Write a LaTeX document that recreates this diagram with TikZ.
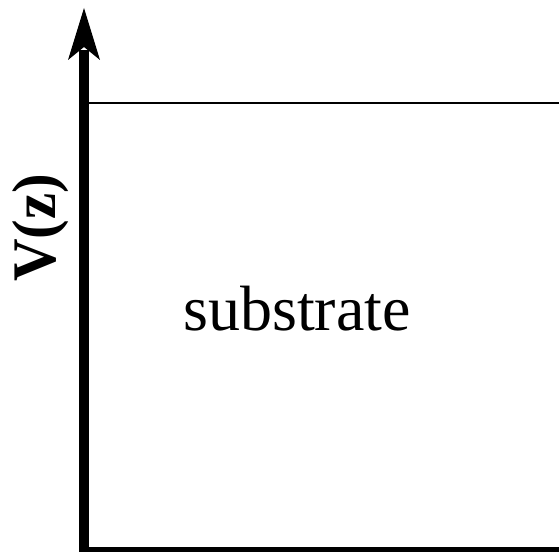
\documentclass[tikz,border=0pt]{standalone}
\usepackage{fontspec}
\setmainfont{Liberation Serif}
\begin{document}
\begin{tikzpicture}[x=1pt,y=1pt,
  axis/.style={fill=black},
  level/.style={draw=black,line width=2pt},
  lbl/.style={inner sep=0pt,anchor=base}]
\useasboundingbox (0,0) rectangle (559,555);
% vertical axis shaft
\fill[axis] (79,3) rectangle (89,505);
% arrow head
\fill[axis] (84,547) -- (100,495) -- (84,508) -- (68,495) -- cycle;
% horizontal axis
\fill[axis] (84,3) rectangle (559,8);
% surface level line
\coordinate (l0) at (89,452);
\coordinate (l1) at (559,452);
\draw[level] (l0) -- (l1);
% labels
\node[lbl] (sub) at (297,225) {\fontsize{64}{70}\selectfont substrate};
\node[inner sep=0pt,rotate=90,xscale=0.95] (v) at (41,327) {\fontsize{62}{68}\selectfont\bfseries V(z)};
\end{tikzpicture}
\end{document}
